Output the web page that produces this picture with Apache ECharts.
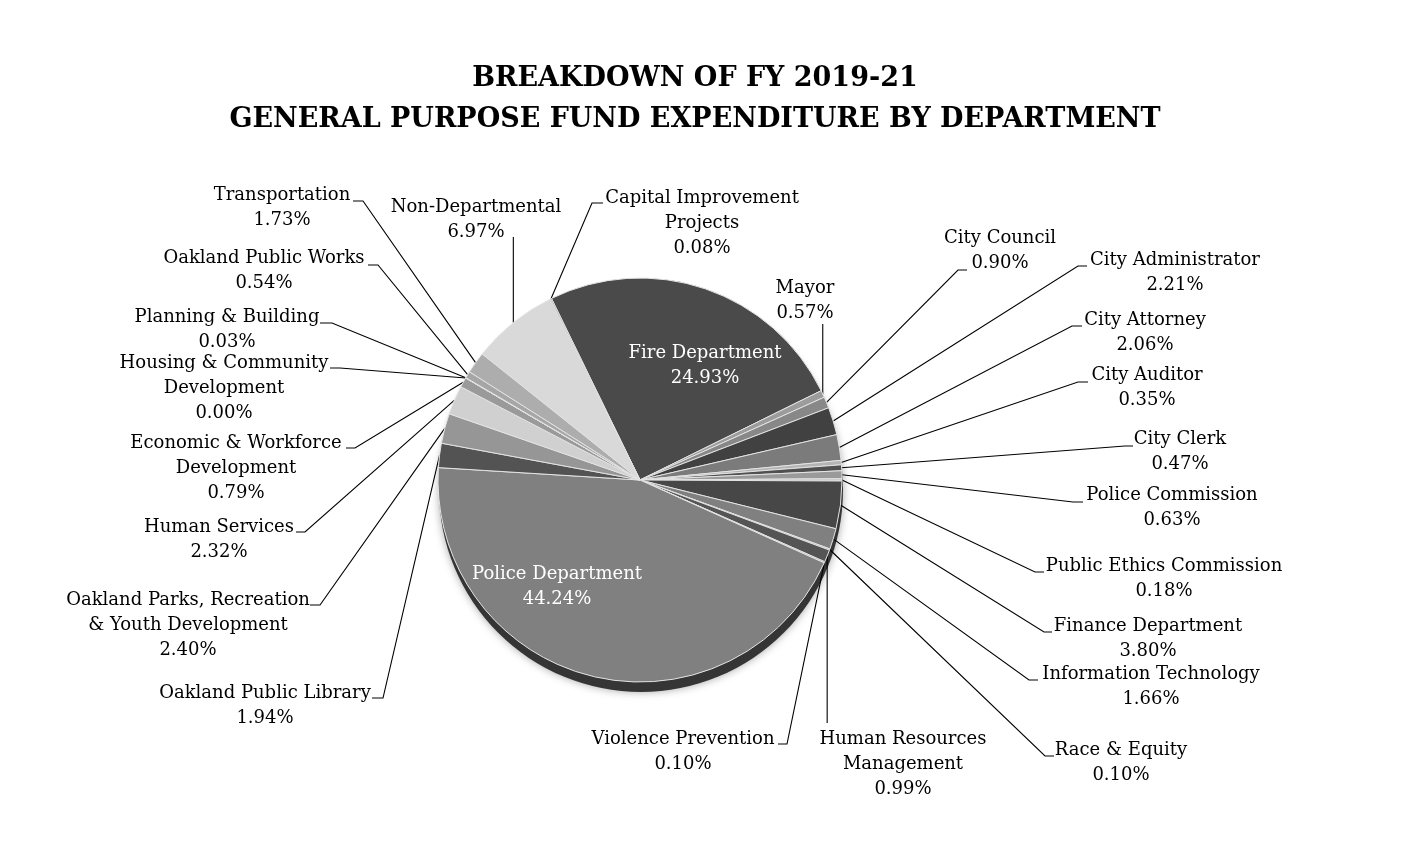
<!DOCTYPE html>
<html>
<head>
<meta charset="utf-8">
<title>General Purpose Fund Expenditure by Department</title>
<script src="https://cdn.jsdelivr.net/npm/echarts/dist/echarts.min.js"></script>
<style>
    html, body { margin: 0; padding: 0; background: #fff; }
    #gpfChart { width: 1406px; height: 864px; }
</style>
</head>
<body>
<div id="gpfChart"></div>
<script>
// departments, clockwise from the top edge of the Fire Department slice
let departments = [
    'Fire Department', 'Mayor', 'City Council', 'City Administrator', 'City Attorney',
    'City Auditor', 'City Clerk', 'Police Commission', 'Public Ethics Commission',
    'Finance Department', 'Information Technology', 'Race & Equity',
    'Human Resources\nManagement', 'Violence Prevention', 'Police Department',
    'Oakland Public Library', 'Oakland Parks, Recreation\n& Youth Development',
    'Human Services', 'Economic & Workforce\nDevelopment', 'Housing & Community\nDevelopment',
    'Planning & Building', 'Oakland Public Works', 'Transportation', 'Non-Departmental',
    'Capital Improvement\nProjects'
];
// share of the fund, in percent
let shares = [
    24.93, 0.57, 0.90, 2.21, 2.06,
    0.35, 0.47, 0.63, 0.18,
    3.80, 1.66, 0.10,
    0.99, 0.10, 44.24,
    1.94, 2.40,
    2.32, 0.79, 0.00,
    0.03, 0.54, 1.73, 6.97,
    0.08
];
let shades = [
    '#4a4a4a', '#9c9c9c', '#888888', '#414141', '#7b7b7b',
    '#b4b4b4', '#505050', '#9a9a9a', '#c6c6c6',
    '#474747', '#808080', '#b0b0b0',
    '#555555', '#999999', '#808080',
    '#535353', '#969696',
    '#d0d0d0', '#9a9a9a', '#888888',
    '#c0c0c0', '#a6a6a6', '#adadad', '#d9d9d9',
    '#555555'
];
// slices whose label sits on the slice itself
let insideLabels = [0, 14];

// label placement: [centre x, first line centre y, leader end x, leader end y, stub length]
let labelSpots = [
    [705, 353],
    [805, 288, 827, 324, 0],
    [1000, 238, 967, 270, -9],
    [1175, 260, 1087, 266, -9],
    [1145, 320, 1082, 326, -10],
    [1147, 375, 1088, 382, -10],
    [1180, 439, 1133, 446, -8],
    [1172, 495, 1083, 502, -10],
    [1164, 566, 1044, 572, -9],
    [1148, 626, 1052, 632, -8],
    [1151, 674, 1038, 680, -9],
    [1121, 750, 1054, 756, -9],
    [903, 739, 831, 723, 0],
    [683, 739, 778, 744, 9],
    [557, 574],
    [265, 693, 372, 698, 11],
    [188, 600, 310, 605, 10],
    [219, 527, 296, 532, 9],
    [236, 443, 346, 448, 9],
    [224, 363, 330, 368, 10],
    [227, 317, 320, 323, 12],
    [264, 258, 368, 265, 10],
    [282, 195, 353, 201, 10],
    [476, 207, 508, 237, 0],
    [702, 198, 603, 203, -11]
];

let fontName = '"DejaVu Serif", "Liberation Serif", serif';
let lineH = 25;

let myChart = echarts.init(document.getElementById('gpfChart'));

let pieData = departments.map(function (name, i) {
    let item = {
        name: name,
        value: shares[i],
        itemStyle: { color: shades[i] }
    };
    if (insideLabels.indexOf(i) >= 0) {
        item.label = { position: 'inside', color: '#ffffff' };
        item.labelLine = { show: false };
    }
    return item;
});

let option = {
    animation: false,
    title: {
        text: 'BREAKDOWN OF FY 2019-21\nGENERAL PURPOSE FUND EXPENDITURE BY DEPARTMENT',
        left: 690,
        top: 53,
        textAlign: 'center',
        textStyle: {
            fontFamily: fontName,
            fontWeight: 'bold',
            fontSize: 27,
            lineHeight: 41,
            color: '#000'
        }
    },
    series: [
        {
            // dark rim under the pie for the raised look
            type: 'pie',
            silent: true,
            z: 1,
            center: [641, 490],
            radius: 202,
            label: { show: false },
            labelLine: { show: false },
            itemStyle: {
                color: '#353535',
                shadowBlur: 8,
                shadowColor: 'rgba(0, 0, 0, 0.35)'
            },
            data: [{ name: 'rim', value: 1 }]
        },
        {
            type: 'pie',
            z: 2,
            center: [640, 480],
            radius: 202,
            startAngle: 116,
            clockwise: true,
            avoidLabelOverlap: false,
            itemStyle: {
                borderColor: '#e4e4e4',
                borderWidth: 1
            },
            label: {
                show: true,
                position: 'outside',
                color: '#000',
                fontFamily: fontName,
                fontSize: 18,
                lineHeight: lineH,
                align: 'center',
                formatter: function (p) {
                    return p.name + '\n' + p.value.toFixed(2) + '%';
                }
            },
            labelLine: {
                show: true,
                length: 10,
                length2: 10,
                lineStyle: { color: '#000', width: 1.1 }
            },
            labelLayout: function (params) {
                let spot = labelSpots[params.dataIndex];
                let layout = {
                    x: spot[0],
                    y: spot[1] - lineH / 2,
                    align: 'center',
                    verticalAlign: 'top'
                };
                if (spot.length > 2 && params.labelLinePoints) {
                    let edge = params.labelLinePoints[0];
                    let end = spot[4] === 0 ? [edge[0], spot[3]] : [spot[2], spot[3]];
                    let bend = [end[0] + spot[4], end[1]];
                    layout.labelLinePoints = [edge, bend, end];
                }
                return layout;
            },
            emphasis: { disabled: true },
            data: pieData
        }
    ]
};
myChart.setOption(option);
</script>
</body>
</html>
